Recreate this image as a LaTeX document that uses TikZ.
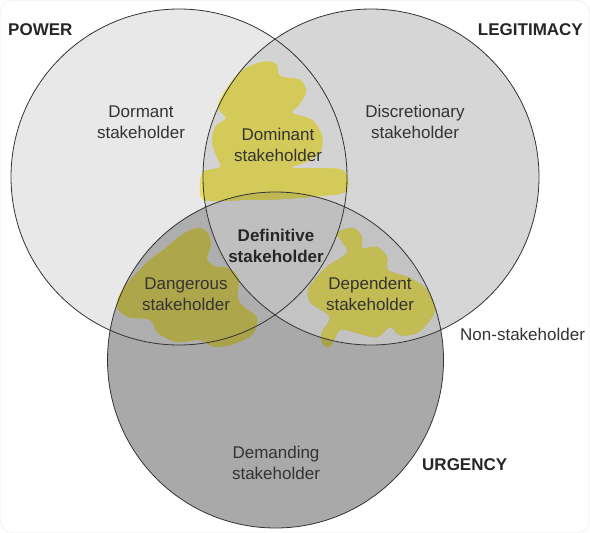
\documentclass[tikz,border=0pt]{standalone}
\usepackage{fontspec}
\setmainfont{Liberation Sans}
\usetikzlibrary{positioning}
\definecolor{powergray}{HTML}{E8E8E8}
\definecolor{legitgray}{HTML}{D6D6D6}
\definecolor{urggray}{HTML}{A9A9A9}
\definecolor{domgray}{HTML}{D3D3D3}
\definecolor{danggray}{HTML}{AEAEAE}
\definecolor{depgray}{HTML}{C3C3C3}
\definecolor{defgray}{HTML}{BFBFBF}
\definecolor{powermark}{RGB}{232,222,98}
\definecolor{legitmark}{RGB}{214,205,91}
\definecolor{urgmark}{RGB}{169,162,72}
\definecolor{dommark}{RGB}{211,202,89}
\definecolor{dangmark}{RGB}{174,166,74}
\definecolor{depmark}{RGB}{195,187,83}
\definecolor{defmark}{RGB}{191,183,81}
\definecolor{labeltext}{HTML}{333333}
\newcommand{\vennfills}[7]{%
  \fill[#1] (P) circle[radius=\rad];
  \fill[#2] (L) circle[radius=\rad];
  \fill[#3] (U) circle[radius=\rad];
  \begin{scope}
    \clip (P) circle[radius=\rad];
    \fill[#4] (L) circle[radius=\rad];
    \fill[#5] (U) circle[radius=\rad];
  \end{scope}
  \begin{scope}
    \clip (L) circle[radius=\rad];
    \fill[#6] (U) circle[radius=\rad];
    \clip (P) circle[radius=\rad];
    \fill[#7] (U) circle[radius=\rad];
  \end{scope}}

\begin{document}
\begin{tikzpicture}[x=1pt, y=-1pt,
  area/.style={font=\fontsize{17}{21}\selectfont, text=labeltext, align=center, inner sep=0pt},
  setname/.style={font=\fontsize{17}{21}\selectfont\bfseries, text=black!85, inner sep=0pt},
  ring/.style={draw=black!80, line width=0.8pt},
  blobcurve/.style={smooth cycle, tension=0.55}]
  \useasboundingbox (0,0) rectangle (590,533);
  \draw[black!10, rounded corners=12pt] (0.5,0.5) rectangle (589.5,532.5);
  \coordinate (P) at (179,177);
  \coordinate (L) at (371,177);
  \coordinate (U) at (275.5,360);
  \def\rad{168pt}
  \vennfills{powergray}{legitgray}{urggray}{domgray}{danggray}{depgray}{defgray}
  \begin{scope}
    \clip plot[blobcurve] coordinates {(222,95) (240,72) (262,62) (276,64) (280,76) (300,80) (306,92) (298,106) (292,113) (312,120) (322,136) (320,152) (306,162) (292,168) (338,169) (348,178) (345,192) (320,196) (280,199) (240,200) (204,200) (200,186) (203,172) (220,167) (216,155) (212,140) (216,126) (226,118) (218,108)}
      plot[blobcurve] coordinates {(207,232) (198,228) (183,234) (167,247) (150,260) (133,277) (120,293) (117,307) (128,317) (150,320) (158,333) (177,342) (200,340) (214,347) (234,344) (253,334) (257,318) (244,307) (238,298) (238,278) (228,268) (214,266) (207,258) (211,244)}
      plot[blobcurve] coordinates {(337,233) (353,228) (362,237) (362,248) (377,247) (387,257) (388,270) (410,278) (427,290) (435,307) (430,320) (417,333) (400,335) (390,327) (377,337) (357,333) (340,330) (330,347) (322,343) (322,332) (330,317) (311,303) (308,290) (317,277) (328,266) (347,253) (343,243)};
    \vennfills{powermark}{legitmark}{urgmark}{dommark}{dangmark}{depmark}{defmark}
  \end{scope}
  \draw[ring] (P) circle[radius=\rad];
  \draw[ring] (L) circle[radius=\rad];
  \draw[ring] (U) circle[radius=\rad];
  \node[area] (dormant) at (141,122) {Dormant\\stakeholder};
  \node[area] (dominant) at (278,145) {Dominant\\stakeholder};
  \node[area] (discretionary) at (415,122) {Discretionary\\stakeholder};
  \node[area, font=\fontsize{17}{21}\selectfont\bfseries, text=black!85] (definitive) at (276,246) {Definitive\\stakeholder};
  \node[area] (dangerous) at (186,294) {Dangerous\\stakeholder};
  \node[area] (dependent) at (370,294) {Dependent\\stakeholder};
  \node[area] (demanding) at (276,463) {Demanding\\stakeholder};
  \node[area, anchor=west] (nonstake) at (460,334) {Non-stakeholder};
  \node[setname, anchor=west] (power) at (8,30) {POWER};
  \node[setname, anchor=east] (legitimacy) at (583,30) {LEGITIMACY};
  \node[setname, anchor=west] (urgency) at (422,465) {URGENCY};
\end{tikzpicture}
\end{document}
